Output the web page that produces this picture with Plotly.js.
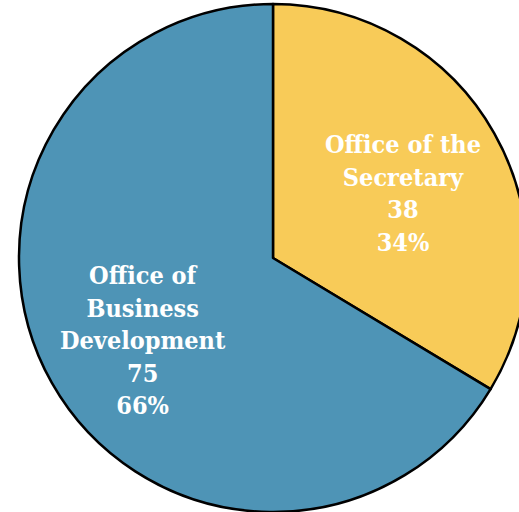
<!DOCTYPE html>
<html><head><meta charset="utf-8">
<script src="https://cdn.plot.ly/plotly-3.0.1.min.js"></script>
<style>html,body{margin:0;padding:0;overflow:hidden;background:#fff;width:519px;height:512px}#chart{width:547px;height:512px}</style>
</head><body><div id="chart"></div>
<script>
const labels = ["Office of the<br>Secretary", "Office of<br>Business<br>Development"];
const values = [38, 75];
const percents = ["34%", "66%"];
const colors = ["#F8CB58", "#4E94B6"];

const total = values.reduce((a, b) => a + b, 0);
const annotations = [];
let cum = 0;
values.forEach((v, i) => {
  const mid = (cum + v / 2) / total * 2 * Math.PI;
  cum += v;
  const rf = 0.295;
  annotations.push({
    xref: 'paper', yref: 'paper',
    x: 0.5 + rf * Math.sin(mid), y: 0.5 + rf * Math.cos(mid),
    xanchor: 'center', yanchor: 'middle', yshift: -9,
    showarrow: false, align: 'center',
    text: labels[i] + '<br>' + v + '<br>' + percents[i],
    font: {family: 'DejaVu Serif Condensed, DejaVu Serif', size: 25, color: '#fff', weight: 'bold'}
  });
});

Plotly.newPlot('chart', [{
  type: 'pie',
  labels: labels,
  values: values,
  sort: false,
  direction: 'clockwise',
  rotation: 0,
  marker: {colors: colors, line: {color: '#000', width: 2.5}},
  textinfo: 'none',
  hoverinfo: 'skip'
}], {
  width: 547, height: 512,
  margin: {l: 19, r: 20, t: 4, b: 0},
  showlegend: false,
  paper_bgcolor: '#fff',
  annotations: annotations
}, {staticPlot: true, displayModeBar: false});
</script></body></html>
